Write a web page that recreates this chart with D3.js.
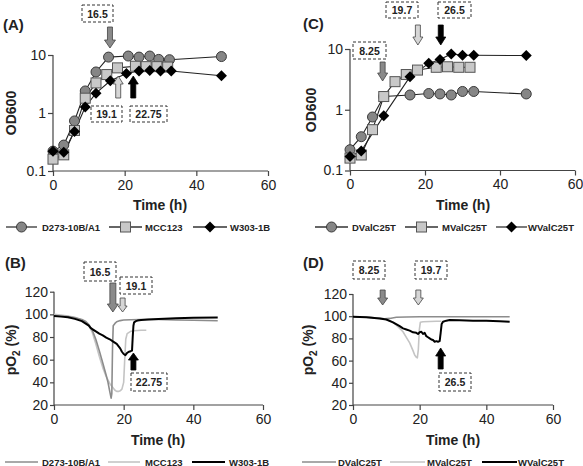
<!DOCTYPE html>
<html><head><meta charset="utf-8">
<script src="https://cdn.jsdelivr.net/npm/d3@7"></script>
<style>
body{margin:0;background:#fff;}
text{font-family:"Liberation Sans",Arial,sans-serif;fill:#222;}
</style></head>
<body><svg id="c" width="583" height="466"></svg>
<script>
// ---------- DATA ----------
// Panel A (OD600, log scale)
const tA_D = [0, 3, 6, 9, 12, 15.5, 21, 24, 27, 29.5, 32.5, 47];
const odA_D = [0.22, 0.28, 0.73, 2.4, 5.1, 9.2, 9.6, 9.2, 9.6, 8.4, 8.3, 9.4];
const tA_M = [0, 3, 6, 9, 12, 15, 18, 23, 26, 29, 32];
const odA_M = [0.16, 0.19, 0.5, 1.8, 3.3, 4.6, 6.0, 6.4, 6.3, 6.3, 6.2];
const tA_W = [0, 3, 6, 9, 12, 16, 20.5, 24, 27, 30, 33, 47];
const odA_W = [0.22, 0.21, 0.48, 1.27, 2.2, 3.6, 4.8, 5.3, 5.4, 5.3, 5.3, 4.4];
// Panel C (OD600, log scale)
const tC_D = [0, 3, 6, 9, 16, 21, 24, 27, 30, 33, 47];
const odC_D = [0.22, 0.36, 0.76, 1.65, 1.75, 1.85, 1.82, 1.75, 2.0, 2.0, 1.82];
const tC_M = [0, 3, 6, 9, 12, 15, 18, 23, 26, 29, 32];
const odC_M = [0.16, 0.18, 0.47, 1.65, 2.9, 3.8, 4.5, 5.0, 5.1, 5.0, 5.0];
const tC_W = [0, 3, 9, 16, 21, 24, 27, 30, 33, 47];
const odC_W = [0.17, 0.21, 0.8, 3.5, 5.8, 6.7, 8.3, 7.9, 7.9, 7.8];
// Panel B (pO2 %)
const tB_D = [0,2,4,6,8,9,10,11,12,13,14,15,15.5,16,16.4,16.6,16.8,17,17.5,18,19,20,22,25,30,35,40,47];
const pB_D = [99,98.5,98,97,95.5,94,91,86,78,68,57,46,40,32,26,30,70,90,92,93.5,94.5,95,95.3,95.5,95.5,95,94.8,94.3];
const tB_M = [0,2,4,6,8,9,10,11,12,13,14,15,16,17,17.5,18,18.5,19,19.5,20,20.3,20.6,21,22,23,24,25,26.5];
const pB_M = [100,99.5,98.5,97.5,95,93,90,84,74,63,53,45,39,35,33,32,32,32.5,34,40,60,78,83,85,85.5,85.8,86,86];
const tB_W = [0,2,4,6,8,10,10.5,11,12,13,14,15,16,17,18,19,19.5,20,20.5,21,21.5,22,22.4,22.6,22.8,23,23.5,24,25,27,30,35,40,47];
const pB_W = [98.5,98,97.5,96,94,90,88,87,85,83,81.5,79.5,78,76,74,70,67,65,64,66,67,67.5,68,80,90,93,94,94.5,95,95.5,96,96.5,97,97.3];
// Panel D (pO2 %)
const tD_D = [0,5,8,9.5,11,13,16,20,25,30,35,40,47];
const pD_D = [99.5,99,98.2,97.6,98,99,99.3,99.5,99.5,99.5,99.5,99.5,99.5];
const tD_M = [0,4,8,10,12,13,14,15,16,17,18,18.5,19,19.3,19.6,19.9,20.2,21,23,25,26.5];
const pD_M = [99.5,99,98,97,94.5,92,89,86,81,76,69,65,63,62.5,70,88,94.5,95,95.2,95.4,95.5];
const tD_W = [0,4,8,10,12,14,15,16,17,18,19,19.5,20,20.5,21,21.5,22,22.5,23,23.5,24,24.5,25,25.5,26,26.3,26.6,27,28,29,32,36,40,44,47];
const pD_W = [99.5,99,98,97,94.5,91,89,88,87,85.5,85,84,85.5,86,84,85,82,81,80,79,78.5,77,77.5,77,77.5,85,93,95,96,96.5,96.3,96,95.8,95.5,95];

const xTicks = [0, 20, 40, 60];
const odTicks = [0.1, 1, 10];
const odTickLabels = ["0.1", "1", "10"];
const pTicks = [20, 40, 60, 80, 100, 120];
const legAB = ["D273-10B/A1", "MCC123", "W303-1B"];
const legCD = ["DValC25T", "MValC25T", "WValC25T"];
// annotation arrows: label, time position, kind
const arrowsA = [{lab:"16.5", t:15.9, k:0, dir:"down"}, {lab:"19.1", t:18.2, k:1, dir:"up"}, {lab:"22.75", t:22.4, k:2, dir:"up"}];
const arrowsC = [{lab:"8.25", t:8.7, k:0, dir:"down"}, {lab:"19.7", t:18.1, k:1, dir:"down"}, {lab:"26.5", t:24.2, k:2, dir:"down"}];
const arrowsB = [{lab:"16.5", t:16.9, k:0, dir:"down"}, {lab:"19.1", t:19.7, k:1, dir:"down"}, {lab:"22.75", t:22.8, k:2, dir:"up"}];
const arrowsD = [{lab:"8.25", t:8.9, k:0, dir:"down"}, {lab:"19.7", t:19.6, k:1, dir:"down"}, {lab:"26.5", t:26.3, k:2, dir:"up"}];

// ---------- STYLE ----------
const arrowFill = ["#8a8a8a", "#d6d6d6", "#000"];
const lineCol = ["#8c8c8c", "#c4c4c4", "#000"];
const svg = d3.select("#c");

function axes(g, x, y, yTicks, yFmt, tickSize) {
  const ax = g.append("g").attr("transform", `translate(0,${y.range()[0]})`)
    .call(d3.axisBottom(x).tickValues(xTicks).tickSize(5).tickPadding(4).tickFormat(d3.format("d")));
  const ay = g.append("g").attr("transform", `translate(${x.range()[0]},0)`)
    .call(d3.axisLeft(y).tickValues(yTicks).tickSize(tickSize).tickPadding(2).tickFormat(yFmt));
  [ax, ay].forEach(a => {
    a.select(".domain").attr("stroke", "#444").attr("stroke-width", 1.2);
    a.selectAll(".tick line").attr("stroke", "#444").attr("stroke-width", 1.2);
    a.selectAll(".tick text").attr("font-size", 14).attr("fill", "#222")
      .attr("font-family", "Liberation Sans, Arial, sans-serif");
  });
  // remove domain outer ticks
  ax.select(".domain").attr("d", `M${x.range()[0]},0H${x.range()[1]}`);
  ay.select(".domain").attr("d", `M0,${y.range()[0]}V${y.range()[1]}`);
}

function marker(g, kind, cx, cy) {
  if (kind === 0) g.append("circle").attr("cx", cx).attr("cy", cy).attr("r", 5)
    .attr("fill", "#868686").attr("stroke", "#3a3a3a").attr("stroke-width", 1);
  else if (kind === 1) g.append("rect").attr("x", cx - 5).attr("y", cy - 5).attr("width", 10).attr("height", 10)
    .attr("fill", "#c8c8c8").attr("stroke", "#555").attr("stroke-width", 1);
  else g.append("path").attr("d", `M${cx},${cy-5.5}L${cx+5.5},${cy}L${cx},${cy+5.5}L${cx-5.5},${cy}Z`)
    .attr("fill", "#000");
}

function arrow(g, x, yTail, yTip, k, shaftW, headW, headL) {
  const s = yTip > yTail ? 1 : -1;
  const yh = yTip - s * headL;
  const p = [[x - shaftW/2, yTail], [x + shaftW/2, yTail], [x + shaftW/2, yh], [x + headW/2, yh],
             [x, yTip], [x - headW/2, yh], [x - shaftW/2, yh]];
  g.append("path").attr("d", "M" + p.map(q => q.join(",")).join("L") + "Z")
    .attr("fill", arrowFill[k]).attr("stroke", k === 2 ? "#000" : "#444").attr("stroke-width", 0.8);
}

function box(g, x0, y0, w, h, lab) {
  g.append("rect").attr("x", x0).attr("y", y0).attr("width", w).attr("height", h)
    .attr("fill", "#fff").attr("stroke", "#333").attr("stroke-width", 1).attr("stroke-dasharray", "3,2");
  g.append("text").attr("x", x0 + w/2).attr("y", y0 + h/2 + 4).attr("text-anchor", "middle")
    .attr("font-size", 10.5).attr("font-weight", "bold").text(lab);
}

function titles(g, xMid, xTitleY, yx, yMid, panelLab, plx, ply, yTitle) {
  g.append("text").attr("x", xMid).attr("y", xTitleY).attr("text-anchor", "middle")
    .attr("font-size", 14).attr("font-weight", "bold").text("Time (h)");
  g.append("text").attr("x", plx).attr("y", ply).attr("font-size", 15).attr("font-weight", "bold").text(panelLab);
  const t = g.append("text").attr("transform", `translate(${yx},${yMid}) rotate(-90)`)
    .attr("text-anchor", "middle").attr("font-size", 14).attr("font-weight", "bold");
  if (yTitle === "OD600") t.text("OD600");
  else {
    t.append("tspan").text("pO");
    t.append("tspan").attr("font-size", 10).attr("dy", 4).text("2");
    t.append("tspan").attr("dy", -4).text(" (%)");
  }
}

function legend(g, y, items, withMarkers, pos) {
  items.forEach((name, i) => {
    const p = pos[i];
    g.append("line").attr("x1", p[0]).attr("x2", p[1]).attr("y1", y).attr("y2", y)
      .attr("stroke", withMarkers ? "#333" : lineCol[i]).attr("stroke-width", withMarkers ? 1.3 : (i === 2 ? 2 : 1.6));
    if (withMarkers) marker(g, i, (p[0] + p[1]) / 2, y);
    g.append("text").attr("x", p[2]).attr("y", y + 3.5).attr("font-size", 9.5).attr("font-weight", "bold").text(name);
  });
}

// ---------- PANEL A ----------
{
  const g = svg.append("g");
  const x = d3.scaleLinear().domain([0, 60]).range([53, 268]);
  const y = d3.scaleLog().domain([0.1, 10]).range([171, 55]);
  axes(g, x, y, odTicks, (d, i) => odTickLabels[i], 5);
  const sets = [[tA_D, odA_D], [tA_M, odA_M], [tA_W, odA_W]];
  sets.forEach(([t, v], k) => {
    const pts = t.map((d, i) => [x(d), y(v[i])]);
    g.append("path").attr("d", d3.line()(pts)).attr("fill", "none").attr("stroke", "#222").attr("stroke-width", 1.1);
  });
  sets.forEach(([t, v], k) => t.forEach((d, i) => marker(g, k, x(d), y(v[i]))));
  titles(g, 160, 210, 16, 113, "(A)", 3, 30, "OD600");
  const ar = arrowsA;
  arrow(g, x(ar[0].t), 27, 48, 0, 5, 11, 8);
  arrow(g, x(ar[1].t), 98, 76, 1, 5, 10, 8);
  arrow(g, x(ar[2].t), 98, 76, 2, 5, 10, 8);
  box(g, 82, 5, 31, 17, ar[0].lab);
  box(g, 91, 106, 31, 16, ar[1].lab);
  box(g, 130, 106, 37, 16, ar[2].lab);
  legend(g, 227, legAB, true, [[6, 37, 42], [109, 142, 145], [193, 227, 230]]);
}
// ---------- PANEL C ----------
{
  const g = svg.append("g");
  const x = d3.scaleLinear().domain([0, 60]).range([350, 575]);
  const y = d3.scaleLog().domain([0.1, 10]).range([170.5, 49]);
  axes(g, x, y, odTicks, (d, i) => odTickLabels[i], 5);
  const sets = [[tC_D, odC_D], [tC_M, odC_M], [tC_W, odC_W]];
  sets.forEach(([t, v], k) => {
    const pts = t.map((d, i) => [x(d), y(v[i])]);
    g.append("path").attr("d", d3.line()(pts)).attr("fill", "none").attr("stroke", "#222").attr("stroke-width", 1.1);
  });
  sets.forEach(([t, v], k) => t.forEach((d, i) => marker(g, k, x(d), y(v[i]))));
  titles(g, 463, 210, 316, 110, "(C)", 303, 29, "OD600");
  const ar = arrowsC;
  arrow(g, x(ar[0].t), 62, 81, 0, 5, 10, 8);
  arrow(g, x(ar[1].t), 25, 45, 1, 5, 10, 8);
  arrow(g, x(ar[2].t), 25, 45, 2, 5, 10, 8);
  box(g, 353, 42, 33, 17, ar[0].lab);
  box(g, 386, 2, 32, 16, ar[1].lab);
  box(g, 438, 2, 33, 16, ar[2].lab);
  legend(g, 227, legCD, true, [[315, 348, 352], [405, 438, 442], [496, 527, 528]]);
}
// ---------- PANEL B ----------
{
  const g = svg.append("g");
  const x = d3.scaleLinear().domain([0, 60]).range([54, 263]);
  const y = d3.scaleLinear().domain([20, 120]).range([405, 291.7]);
  axes(g, x, y, pTicks, d3.format("d"), 4);
  const sets = [[tB_D, pB_D], [tB_M, pB_M], [tB_W, pB_W]];
  [1, 0, 2].forEach(k => {
    const [t, v] = sets[k];
    const pts = t.map((d, i) => [x(d), y(v[i])]);
    g.append("path").attr("d", d3.line()(pts)).attr("fill", "none").attr("stroke", lineCol[k])
      .attr("stroke-width", k === 2 ? 2 : 1.6).attr("stroke-linejoin", "round");
  });
  titles(g, 158, 445, 16, 350, "(B)", 5, 268, "pO2");
  const ar = arrowsB;
  arrow(g, x(ar[0].t), 283, 312, 0, 6, 11, 8);
  arrow(g, x(ar[1].t), 298, 312, 1, 5, 9, 6);
  arrow(g, x(ar[2].t), 370, 353, 2, 5, 10, 7);
  box(g, 84, 262, 32, 19, ar[0].lab);
  box(g, 120, 277, 32, 17, ar[1].lab);
  box(g, 131, 373, 36, 18, ar[2].lab);
  legend(g, 462, legAB, false, [[5, 38, 42], [108, 140, 145], [192, 225, 229]]);
}
// ---------- PANEL D ----------
{
  const g = svg.append("g");
  const x = d3.scaleLinear().domain([0, 60]).range([353, 553]);
  const y = d3.scaleLinear().domain([20, 120]).range([405, 294]);
  axes(g, x, y, pTicks, d3.format("d"), 4);
  const sets = [[tD_D, pD_D], [tD_M, pD_M], [tD_W, pD_W]];
  [0, 1, 2].forEach(k => {
    const [t, v] = sets[k];
    const pts = t.map((d, i) => [x(d), y(v[i])]);
    g.append("path").attr("d", d3.line()(pts)).attr("fill", "none").attr("stroke", lineCol[k])
      .attr("stroke-width", k === 2 ? 2 : 1.6).attr("stroke-linejoin", "round");
  });
  titles(g, 453, 445, 313, 350, "(D)", 303, 268, "pO2");
  const ar = arrowsD;
  arrow(g, x(ar[0].t), 290, 305, 0, 5, 10, 7);
  arrow(g, x(ar[1].t), 290, 305, 1, 5, 10, 7);
  arrow(g, x(ar[2].t), 369, 348, 2, 5, 10, 8);
  box(g, 353, 261, 32, 18, ar[0].lab);
  box(g, 415, 261, 32, 18, ar[1].lab);
  box(g, 439, 373, 32, 18, ar[2].lab);
  legend(g, 462, legCD, false, [[302, 336, 338], [390, 425, 427], [482, 517, 518]]);
}
</script></body></html>
